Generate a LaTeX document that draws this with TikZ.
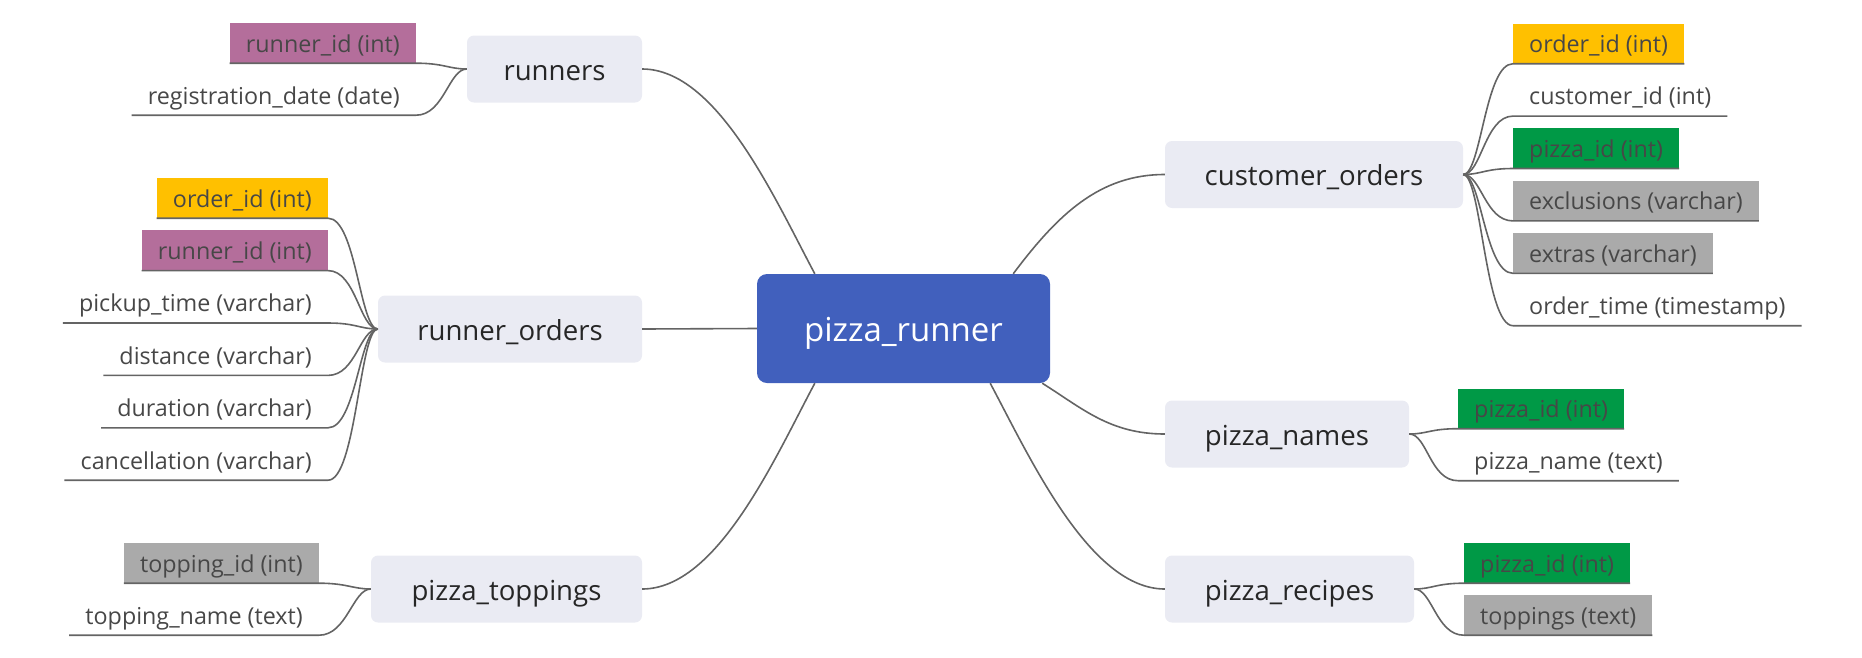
\documentclass[tikz,border=0pt]{standalone}
\usepackage{fontspec}
\setmainfont{Open Sans}
\usepackage{tikz}

\definecolor{fond}{RGB}{234,235,243}
\definecolor{bleuC}{RGB}{65,96,189}
\definecolor{mauve}{RGB}{180,110,155}
\definecolor{jaune}{RGB}{255,192,0}
\definecolor{vert}{RGB}{0,153,70}
\definecolor{gris}{RGB}{170,170,170}
\definecolor{trait}{RGB}{100,100,100}

\begin{document}
\begin{tikzpicture}[x=1pt,y=-1pt]
\tikzstyle{branche}=[draw=trait,line width=1.6pt]
\tikzset{table/.style={fill=fond,rounded corners=7pt,minimum height=67pt,inner sep=0pt,text height=22pt,text depth=0pt,text=black!85,font=\fontsize{27.6}{30}\selectfont},
champ/.style={fill=#1,minimum height=40pt,inner xsep=16pt,inner ysep=0pt,text height=18pt,text depth=0pt,text=black!72,font=\fontsize{23.3}{26}\selectfont},
champ/.default={none}}
\useasboundingbox (0,0) rectangle (1862,657);

\node[fill=bleuC,rounded corners=10pt,minimum width=293pt,minimum height=109pt,inner sep=0pt,text height=26pt,text depth=0pt,text=white,font=\fontsize{33}{36}\selectfont] (P) at (903.5,328.5) {pizza\_runner};

\node[table,minimum width=175pt] (P1) at (554.5,69) {runners};
\node[table,minimum width=264pt] (P2) at (510,329) {runner\_orders};
\node[table,minimum width=271pt] (P3) at (506.5,589) {pizza\_toppings};
\node[table,minimum width=298pt] (P4) at (1314,174.5) {customer\_orders};
\node[table,minimum width=244pt] (P5) at (1287,434) {pizza\_names};
\node[table,minimum width=249pt] (P6) at (1289.5,589) {pizza\_recipes};

\node[champ=mauve,anchor=east] (P11) at (416,43) {runner\_id (int)};
\node[champ,anchor=east] (P12) at (416,95) {registration\_date (date)};

\node[champ=jaune,anchor=east] (P21) at (328,198) {order\_id (int)};
\node[champ=mauve,anchor=east] (P22) at (328,250.4) {runner\_id (int)};
\node[champ,anchor=east] (P23) at (328,302.8) {pickup\_time (varchar)};
\node[champ,anchor=east] (P24) at (328,355.2) {distance (varchar)};
\node[champ,anchor=east] (P25) at (328,407.6) {duration (varchar)};
\node[champ,anchor=east] (P26) at (328,460) {cancellation (varchar)};

\node[champ=gris,anchor=east] (P31) at (319,563) {topping\_id (int)};
\node[champ,anchor=east] (P32) at (319,615) {topping\_name (text)};

\node[champ=jaune,anchor=west] (P41) at (1513,43.5) {order\_id (int)};
\node[champ,anchor=west] (P42) at (1513,95.9) {customer\_id (int)};
\node[champ=vert,anchor=west] (P43) at (1513,148.3) {pizza\_id (int)};
\node[champ=gris,anchor=west] (P44) at (1513,200.7) {exclusions (varchar)};
\node[champ=gris,anchor=west] (P45) at (1513,253.1) {extras (varchar)};
\node[champ,anchor=west] (P46) at (1513,305.5) {order\_time (timestamp)};

\node[champ=vert,anchor=west] (P51) at (1458,408.5) {pizza\_id (int)};
\node[champ,anchor=west] (P52) at (1458,460.5) {pizza\_name (text)};

\node[champ=vert,anchor=west] (P61) at (1464,563) {pizza\_id (int)};
\node[champ=gris,anchor=west] (P62) at (1464,615) {toppings (text)};

\draw[branche] (P.west) -- (P2.east);
\draw[branche] ([xshift=58pt]P.north west) .. controls +(-40,-75) and +(75,0) .. (P1.east);
\draw[branche] ([xshift=58pt]P.south west) .. controls +(-40,75) and +(75,0) .. (P3.east);
\draw[branche] ([xshift=-37pt]P.north east) .. controls +(45,-60) and +(-65,0) .. (P4.west);
\draw[branche] ([xshift=-8pt]P.south east) .. controls +(40,25) and +(-55,0) .. (P5.west);
\draw[branche] ([xshift=-60pt]P.south east) .. controls +(40,75) and +(-75,0) .. (P6.west);

\draw[branche] (P1.west) .. controls +(-18,0) and +(28,0) .. (P11.south east) -- (P11.south west);
\draw[branche] (P1.west) .. controls +(-18,0) and +(28,0) .. (P12.south east) -- (P12.south west);

\draw[branche] (P2.west) .. controls +(-18,0) and +(28,0) .. (P21.south east) -- (P21.south west);
\draw[branche] (P2.west) .. controls +(-18,0) and +(28,0) .. (P22.south east) -- (P22.south west);
\draw[branche] (P2.west) .. controls +(-18,0) and +(28,0) .. (P23.south east) -- (P23.south west);
\draw[branche] (P2.west) .. controls +(-18,0) and +(28,0) .. (P24.south east) -- (P24.south west);
\draw[branche] (P2.west) .. controls +(-18,0) and +(28,0) .. (P25.south east) -- (P25.south west);
\draw[branche] (P2.west) .. controls +(-18,0) and +(28,0) .. (P26.south east) -- (P26.south west);

\draw[branche] (P3.west) .. controls +(-18,0) and +(28,0) .. (P31.south east) -- (P31.south west);
\draw[branche] (P3.west) .. controls +(-18,0) and +(28,0) .. (P32.south east) -- (P32.south west);

\draw[branche] (P4.east) .. controls +(18,0) and +(-28,0) .. (P41.south west) -- (P41.south east);
\draw[branche] (P4.east) .. controls +(18,0) and +(-28,0) .. (P42.south west) -- (P42.south east);
\draw[branche] (P4.east) .. controls +(18,0) and +(-28,0) .. (P43.south west) -- (P43.south east);
\draw[branche] (P4.east) .. controls +(18,0) and +(-28,0) .. (P44.south west) -- (P44.south east);
\draw[branche] (P4.east) .. controls +(18,0) and +(-28,0) .. (P45.south west) -- (P45.south east);
\draw[branche] (P4.east) .. controls +(18,0) and +(-28,0) .. (P46.south west) -- (P46.south east);

\draw[branche] (P5.east) .. controls +(18,0) and +(-28,0) .. (P51.south west) -- (P51.south east);
\draw[branche] (P5.east) .. controls +(18,0) and +(-28,0) .. (P52.south west) -- (P52.south east);

\draw[branche] (P6.east) .. controls +(18,0) and +(-28,0) .. (P61.south west) -- (P61.south east);
\draw[branche] (P6.east) .. controls +(18,0) and +(-28,0) .. (P62.south west) -- (P62.south east);

\end{tikzpicture}
\end{document}
